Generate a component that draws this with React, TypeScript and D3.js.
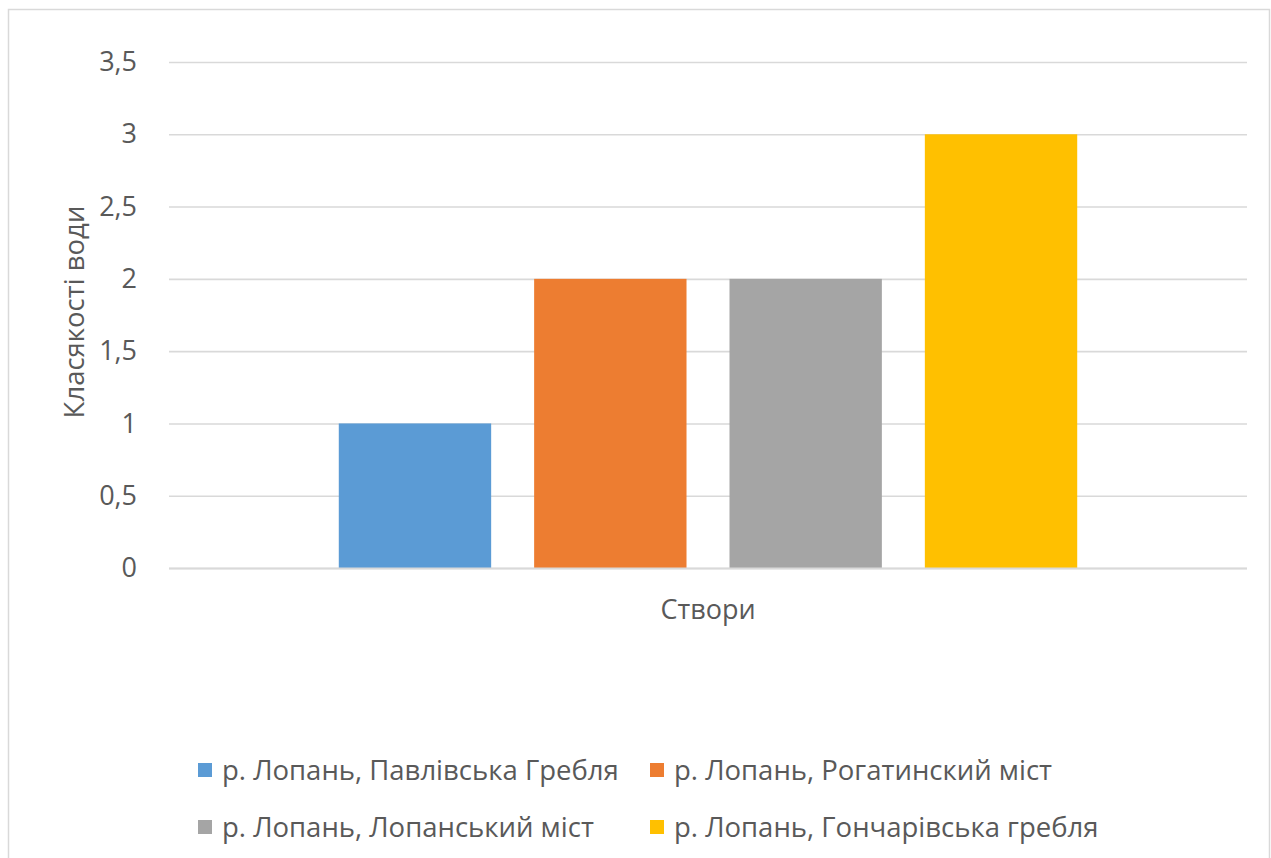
import React, { useEffect, useRef } from 'react';
import * as d3 from 'd3';

const categories = ['Створи'];
const seriesNames = [
  'р. Лопань, Павлівська Гребля',
  'р. Лопань, Рогатинский міст',
  'р. Лопань, Лопанський міст',
  'р. Лопань, Гончарівська гребля',
];
const seriesValues = [1, 2, 2, 3];
const seriesColors = ['#5b9bd5', '#ed7d31', '#a5a5a5', '#ffc000'];
const yTicks = [0, 0.5, 1, 1.5, 2, 2.5, 3, 3.5];
const yTitle = 'Класякості води';

const FONT = "'Open Sans', 'Noto Sans', sans-serif";
const TEXT = '#595959';
const GRID = '#d9d9d9';

const App = () => {
  const svgRef = useRef<SVGSVGElement | null>(null);

  useEffect(() => {
    const W = 1271;
    const H = 858;
    const plot = { left: 169, right: 1247, top: 62, bottom: 568 };

    const svg = d3.select(svgRef.current).attr('width', W).attr('height', H);
    svg.selectAll('*').remove();

    svg
      .append('rect')
      .attr('x', 8.5)
      .attr('y', 9.5)
      .attr('width', 1261)
      .attr('height', 860)
      .attr('fill', '#fff')
      .attr('stroke', GRID)
      .attr('stroke-width', 1.5);

    const y = d3.scaleLinear().domain([0, 3.5]).range([plot.bottom, plot.top]);
    const x0 = d3
      .scaleBand()
      .domain(categories)
      .range([plot.left, plot.right])
      .paddingInner(0.315)
      .paddingOuter(0.1575);
    const x1 = d3
      .scaleBand()
      .domain(seriesNames)
      .range([0, x0.bandwidth()])
      .paddingInner(0.22);

    // gridlines
    const yAxis = d3
      .axisLeft(y)
      .tickValues(yTicks)
      .tickSize(-(plot.right - plot.left))
      .tickPadding(32)
      .tickFormat((d) => String(d).replace('.', ','));

    const ga = svg
      .append('g')
      .attr('transform', `translate(${plot.left},0)`)
      .call(yAxis);
    ga.select('.domain').remove();
    ga.selectAll('.tick line').attr('stroke', GRID).attr('stroke-width', 1.6);
    ga.selectAll('.tick text')
      .attr('fill', TEXT)
      .style('font-family', FONT)
      .style('font-size', '27px');

    // bars
    const group = svg
      .append('g')
      .selectAll('g')
      .data(categories)
      .join('g')
      .attr('transform', (d) => `translate(${x0(d)},0)`);

    group
      .selectAll('rect')
      .data(seriesNames.map((name, i) => ({ name, value: seriesValues[i], color: seriesColors[i] })))
      .join('rect')
      .attr('x', (d) => x1(d.name)!)
      .attr('width', x1.bandwidth())
      .attr('y', (d) => y(d.value))
      .attr('height', (d) => y(0) - y(d.value))
      .attr('fill', (d) => d.color);

    // baseline
    svg
      .append('line')
      .attr('x1', plot.left)
      .attr('x2', plot.right)
      .attr('y1', y(0) + 0.5)
      .attr('y2', y(0) + 0.5)
      .attr('stroke', GRID)
      .attr('stroke-width', 2);

    // category label
    svg
      .append('text')
      .attr('x', x0(categories[0])! + x0.bandwidth() / 2)
      .attr('y', 619)
      .attr('text-anchor', 'middle')
      .attr('fill', TEXT)
      .style('font-family', FONT)
      .style('font-size', '27px')
      .text(categories[0]);

    // y title
    svg
      .append('text')
      .attr('transform', `translate(84,${(plot.top + plot.bottom) / 2 - 3}) rotate(-90)`)
      .attr('text-anchor', 'middle')
      .attr('fill', TEXT)
      .style('font-family', FONT)
      .style('font-size', '27.5px')
      .text(yTitle);

    // legend
    const legendCols = [198, 650];
    const legendRows = [770, 827];
    const legend = svg
      .append('g')
      .selectAll('g')
      .data(seriesNames)
      .join('g')
      .attr('transform', (d, i) => `translate(${legendCols[i % 2]},${legendRows[Math.floor(i / 2)]})`);
    legend
      .append('rect')
      .attr('x', 0)
      .attr('y', -7)
      .attr('width', 14)
      .attr('height', 14)
      .attr('fill', (d, i) => seriesColors[i]);
    legend
      .append('text')
      .attr('x', 24)
      .attr('y', 10)
      .attr('fill', TEXT)
      .style('font-family', FONT)
      .style('font-size', '27.5px')
      .text((d) => d);
  }, []);

  return <svg ref={svgRef} style={{ position: 'absolute', left: 0, top: 0 }}></svg>;
};

export default App;
